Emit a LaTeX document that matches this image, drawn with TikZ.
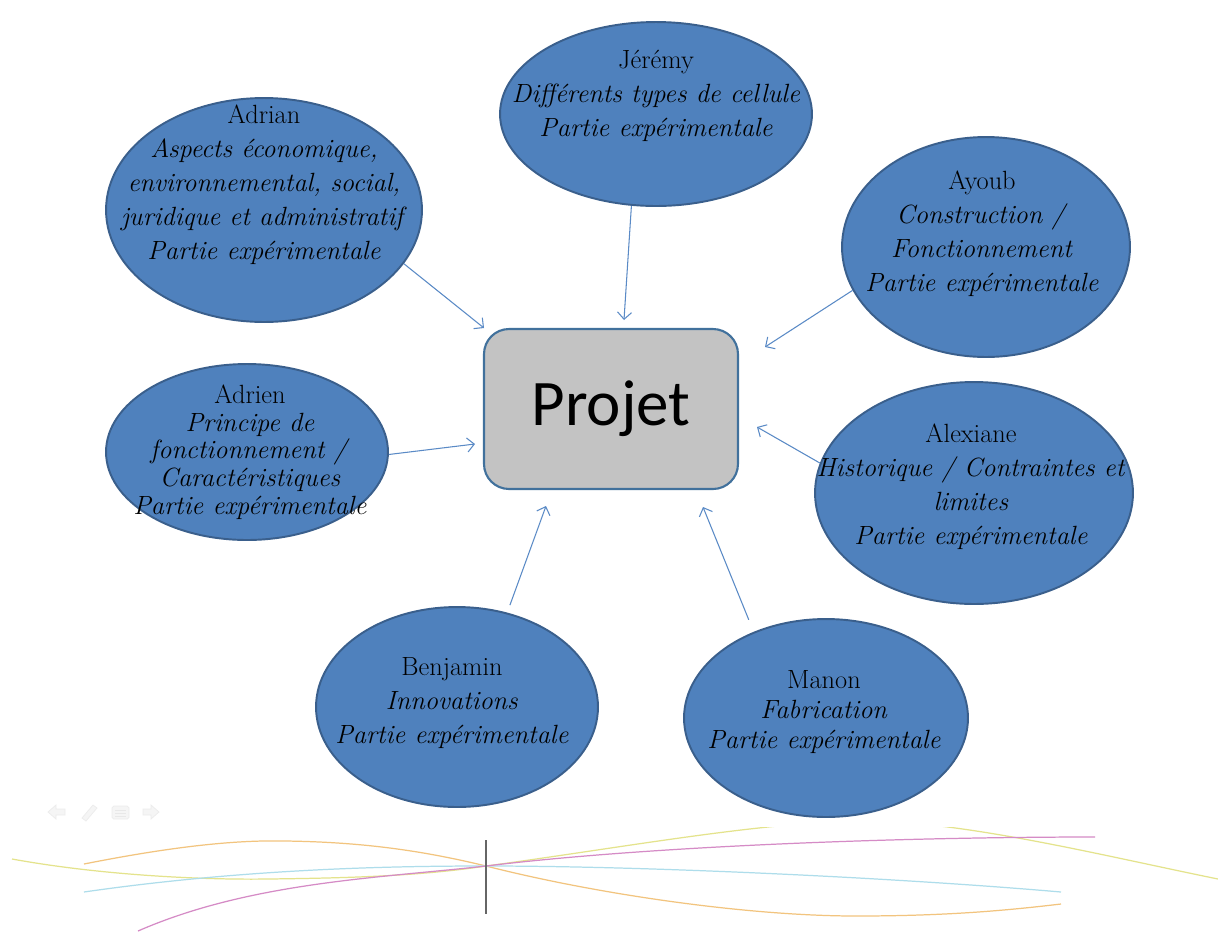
\documentclass[tikz,border=0pt]{standalone}
\usepackage{fontspec}
\newfontfamily\projetfont{Carlito}
\usetikzlibrary{shapes.geometric, arrows.meta}

\definecolor{bulleFond}{HTML}{4F81BD}
\definecolor{bulleBord}{HTML}{3A5F8C}
\definecolor{boiteFond}{HTML}{C3C3C3}
\definecolor{boiteBord}{HTML}{41719C}
\definecolor{fleche}{HTML}{5A8AC6}
\definecolor{courbeOrange}{HTML}{F2C47E}
\definecolor{courbeJaune}{HTML}{E4E38C}
\definecolor{courbeCyan}{HTML}{AEDDEB}
\definecolor{courbeRose}{HTML}{D58BC6}

\begin{document}
\begin{tikzpicture}[x=0.02cm, y=-0.02cm,
    bulle/.style={ellipse, draw=bulleBord, fill=bulleFond, line width=1.1pt, inner sep=0pt},
    texte/.style={align=center, font=\fontsize{15}{19.4}\selectfont},
    lien/.style={draw=fleche, line width=0.6pt, -{Straight Barb[length=4pt, width=8pt]}},
    courbe/.style={line width=0.7pt},
    icone/.style={fill=gray!8, draw=gray!15, line width=0.4pt}]
    \fill[white] (0,0) rectangle (1218,931);
    \useasboundingbox (0,0) rectangle (1218,931);

    % Projet
    \node[draw=boiteBord, fill=boiteFond, line width=1.2pt, rounded corners=0.5cm,
          minimum width=5.08cm, minimum height=3.2cm, font=\projetfont\fontsize{37}{40}\selectfont]
          (projet) at (611,409) {Projet};

    % Jeremy
    \node[bulle, minimum width=6.24cm, minimum height=3.68cm] (jeremy) at (656,114) {};
    \node[texte] (jeremy-txt) at (656,96) {Jérémy\\\textit{Différents types de cellule}\\\textit{Partie expérimentale}};

    % Adrian
    \node[bulle, minimum width=6.32cm, minimum height=4.48cm] (adrian) at (264,210) {};
    \node[texte] (adrian-txt) at (264,185) {Adrian\\\textit{Aspects économique,}\\\textit{environnemental, social,}\\\textit{juridique et administratif}\\\textit{Partie expérimentale}};

    % Ayoub
    \node[bulle, minimum width=5.76cm, minimum height=4.40cm] (ayoub) at (986,247) {};
    \node[texte] (ayoub-txt) at (982,234) {Ayoub\\\textit{Construction /}\\\textit{Fonctionnement}\\\textit{Partie expérimentale}};

    % Adrien
    \node[bulle, minimum width=5.64cm, minimum height=3.52cm] (adrien) at (247,452) {};
    \node[texte, font=\fontsize{15}{15.8}\selectfont] (adrien-txt) at (250,452) {Adrien\\\textit{Principe de}\\\textit{fonctionnement /}\\\textit{Caractéristiques}\\\textit{Partie expérimentale}};

    % Alexiane
    \node[bulle, minimum width=6.36cm, minimum height=4.44cm] (alexiane) at (974,493) {};
    \node[texte] (alexiane-txt) at (971,487) {Alexiane\\\textit{Historique / Contraintes et}\\\textit{limites}\\\textit{Partie expérimentale}};

    % Benjamin
    \node[bulle, minimum width=5.64cm, minimum height=4.00cm] (benjamin) at (457,707) {};
    \node[texte] (benjamin-txt) at (452,703) {Benjamin\\\textit{Innovations}\\\textit{Partie expérimentale}};

    % Manon
    \node[bulle, minimum width=5.68cm, minimum height=3.96cm] (manon) at (826,718) {};
    \node[texte, font=\fontsize{15}{17}\selectfont] (manon-txt) at (824,712) {Manon\\\textit{Fabrication}\\\textit{Partie expérimentale}};

    % Arrows
    \coordinate (fin-jeremy) at (624,320);
    \coordinate (fin-adrian) at (484,328);
    \coordinate (fin-ayoub) at (765,347);
    \coordinate (fin-adrien) at (475,444);
    \coordinate (fin-alexiane) at (757,427);
    \coordinate (fin-benjamin) at (546,506);
    \coordinate (fin-manon) at (703,507);
    \draw[lien] (jeremy.255) -- (fin-jeremy);
    \draw[lien] (adrian.-21) -- (fin-adrian);
    \draw[lien] (ayoub.198) -- (fin-ayoub);
    \draw[lien] (adrien.-1) -- (fin-adrien);
    \draw[lien] (alexiane.169) -- (fin-alexiane);
    \draw[lien, shorten <=0.16cm] (benjamin.62) -- (fin-benjamin);
    \draw[lien, shorten <=0.26cm] (manon.130) -- (fin-manon);

    % Slide controls
    \draw[icone] (48,812) -- (56,805) -- (56,809) -- (65,809) -- (65,815) -- (56,815) -- (56,819) -- cycle;
    \draw[icone] (82,818) -- (93,805) -- (97,808) -- (86,821) -- cycle;
    \draw[icone, rounded corners=1pt] (112,806) rectangle (129,819);
    \draw[gray!18, line width=0.4pt] (115,810) -- (126,810) (115,813) -- (126,813) (115,816) -- (126,816);
    \draw[icone] (159,812) -- (151,805) -- (151,809) -- (143,809) -- (143,815) -- (151,815) -- (151,819) -- cycle;

    % Decorative curves
    \begin{scope}
      \clip (0,827) rectangle (1218,931);
      \draw[courbe, courbeJaune] (12,859) .. controls (100,875) and (200,880) .. (268,879)
          .. controls (350,878) and (420,876) .. (486,866)
          .. controls (620,848) and (760,822) .. (861,821)
          .. controls (960,820) and (1100,855) .. (1218,879);
    \end{scope}
    \draw[courbe, courbeOrange] (84,864) .. controls (180,845) and (240,840) .. (285,841)
        .. controls (360,842) and (420,850) .. (486,866)
        .. controls (600,895) and (750,916) .. (856,916)
        .. controls (950,916) and (1010,910) .. (1061,904);
    \draw[courbe, courbeCyan] (84,892) .. controls (250,868) and (400,866) .. (486,866)
        .. controls (650,866) and (900,878) .. (1061,892);
    \draw[courbe, courbeRose] (138,931) .. controls (250,882) and (380,878) .. (486,866)
        .. controls (650,846) and (900,837) .. (1095,837);
    \draw[gray!80!black, line width=0.6pt] (486,840) -- (486,914);
\end{tikzpicture}
\end{document}
